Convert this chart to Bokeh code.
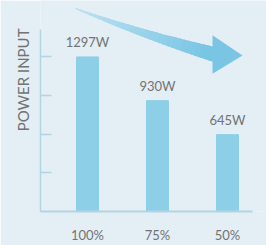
import numpy as np
from bokeh.plotting import figure
from bokeh.models import FixedTicker, Title
from bokeh.core.properties import value
from bokeh.embed import file_html
from bokeh.resources import INLINE

# ---- data ----
categories = ["100%", "75%", "50%"]
power_w = [1297, 930, 645]
value_labels = ["1297W", "930W", "645W"]
y_ticks = [325, 650, 975, 1300]
y_label = "POWER INPUT"

# ---- style ----
BG = "#e3eef5"
BAR = "#8dcfe6"
AXIS = "#b4d3e4"
TEXT = "#737373"
FONT = "Lato"

W, H = 266, 245
LEFT, BOTTOM = 40, 32
frame_w = W - LEFT
frame_h = H - BOTTOM
px_per_cat = 70.0
x_start = -47 / px_per_cat
x_end = x_start + frame_w / px_per_cat
px_per_w = 0.1203
y_end = frame_h / px_per_w

xs = list(range(len(categories)))

p = figure(width=W, height=H, x_range=(x_start, x_end), y_range=(0, y_end),
           output_backend="svg", toolbar_location=None,
           min_border_left=LEFT, min_border_right=0, min_border_top=0,
           min_border_bottom=BOTTOM, background_fill_color=BG,
           border_fill_color=BG, outline_line_color=None)
p.grid.visible = False

# y axis (line + inward ticks)
p.yaxis.ticker = FixedTicker(ticks=y_ticks, minor_ticks=[])
p.yaxis.bounds = (0, 1530)
p.yaxis.major_tick_in = 11
p.yaxis.major_tick_out = 0
p.yaxis.minor_tick_in = 0
p.yaxis.minor_tick_out = 0
p.yaxis.major_label_overrides = {t: "" for t in y_ticks}
p.yaxis.major_label_text_font_size = "0px"
p.yaxis.major_label_standoff = 0
p.yaxis.axis_line_color = AXIS
p.yaxis.axis_line_width = 1.5
p.yaxis.major_tick_line_color = AXIS
p.yaxis.major_tick_line_width = 1.5

# vertical axis title, placed towards the top
p.add_layout(Title(text=y_label, align="right", offset=28, standoff=18,
                   text_font=FONT, text_font_size="15px",
                   text_font_style="normal", text_color=TEXT), "left")

# x axis
p.xaxis.ticker = FixedTicker(ticks=xs, minor_ticks=[])
p.xaxis.major_label_overrides = {i: c for i, c in zip(xs, categories)}
p.xaxis.bounds = (x_start, 2.357)
p.xaxis.major_tick_in = 0
p.xaxis.major_tick_out = 0
p.xaxis.minor_tick_in = 0
p.xaxis.minor_tick_out = 0
p.xaxis.major_label_standoff = 15
p.xaxis.major_label_text_font = FONT
p.xaxis.major_label_text_font_size = "13px"
p.xaxis.major_label_text_color = TEXT
p.xaxis.axis_line_color = AXIS
p.xaxis.axis_line_width = 2

# bars
p.vbar(x=xs, top=power_w, bottom=0, width=22 / px_per_cat, color=BAR)

# value labels
gap = 15 / px_per_w
p.text(x=xs, y=[v + gap for v in power_w], text=value_labels,
       text_align="center", text_baseline="alphabetic",
       text_font=value(FONT), text_font_size="13px", text_color=TEXT)

# ---- decorative curved arrow (pixel geometry -> data) ----
def to_data(px, py):
    return x_start + (px - LEFT) / px_per_cat, (frame_h - py) / px_per_w

P0 = np.array([75.0, 8.0]); P1 = np.array([144.0, 35.0]); P2 = np.array([214.0, 54.5])
def bez(t):
    return (1 - t) ** 2 * P0 + 2 * (1 - t) * t * P1 + t ** 2 * P2
def tang(t):
    d = 2 * (1 - t) * (P1 - P0) + 2 * t * (P2 - P1)
    return d / np.linalg.norm(d)
def width(t):
    return 1.2 + 13.8 * t

c0 = np.array([190, 226, 241]); c1 = np.array([118, 196, 228])
N = 30
pxs, pys, cols = [], [], []
for i in range(N):
    t0 = i / N
    t1 = min((i + 1.6) / N, 1.0)
    pts = []
    for t, s in [(t0, 1), (t1, 1), (t1, -1), (t0, -1)]:
        c = bez(t); d = tang(t); nrm = np.array([-d[1], d[0]])
        q = c + s * nrm * width(t) / 2
        pts.append(to_data(*q))
    pxs.append([q[0] for q in pts]); pys.append([q[1] for q in pts])
    cc = (c0 + (c1 - c0) * ((t0 + t1) / 2)).astype(int)
    cols.append("#%02x%02x%02x" % tuple(cc))
p.patches(xs=pxs, ys=pys, fill_color=cols, line_color=None)

head = [to_data(212, 35), to_data(242, 55.5), to_data(212, 74)]
p.patch(x=[h[0] for h in head], y=[h[1] for h in head],
        fill_color="#7ac5e4", line_color=None)

open("out.html", "w").write(file_html(p, INLINE))
